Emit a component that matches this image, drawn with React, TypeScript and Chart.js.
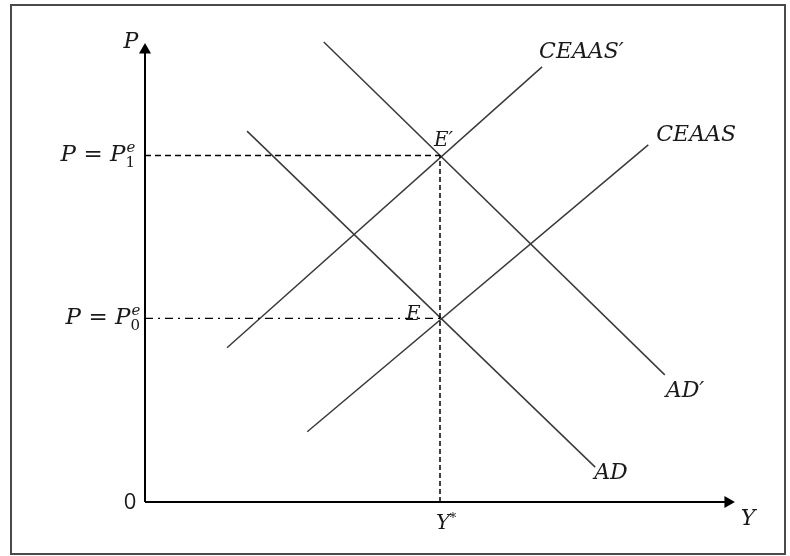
import React, { useEffect, useRef } from "react";
import { Chart, registerables } from "chart.js";

Chart.register(...registerables);

// Conceptual AD / CEAAS diagram, values in arbitrary axis units (0..10)
const yStar = 5.0;
const p0 = 4.0; // P = P0^e
const p1 = 7.55; // P = P1^e
const ceaasLine = [
  { x: 2.75, y: 1.53 },
  { x: 8.53, y: 7.78 },
];
const ceaasPrimeLine = [
  { x: 1.39, y: 3.36 },
  { x: 6.73, y: 9.48 },
];
const adLine = [
  { x: 1.73, y: 8.08 },
  { x: 7.63, y: 0.76 },
];
const adPrimeLine = [
  { x: 3.03, y: 10.02 },
  { x: 8.81, y: 2.77 },
];
const yAxisLine = [
  { x: 0, y: 0 },
  { x: 0, y: 9.85 },
];
const xAxisLine = [
  { x: 0, y: 0 },
  { x: 9.88, y: 0 },
];
const curveNames = ["CEAAS", "CEAAS′", "AD", "AD′"];
const axisNames = ["P", "Y", "0", "Y"];
const pointNames = ["E", "E′"];

const SERIF = '"DejaVu Serif"';

const labelPlugin = {
  id: "diagramLabels",
  afterDatasetsDraw(chart: any) {
    const { ctx } = chart;
    const sx = chart.scales.x;
    const sy = chart.scales.y;
    const px = (v: number) => sx.getPixelForValue(v);
    const py = (v: number) => sy.getPixelForValue(v);
    const it = (s: number) => `italic ${s}px ${SERIF}`;
    const rg = (s: number) => `${s}px ${SERIF}`;
    ctx.save();
    ctx.fillStyle = "#1a1a1a";
    ctx.textBaseline = "middle";
    ctx.textAlign = "left";

    // curve labels
    ctx.font = it(22);
    ctx.fillText(curveNames[1], px(ceaasPrimeLine[1].x) - 3, py(ceaasPrimeLine[1].y) - 15);
    ctx.fillText(curveNames[0], px(ceaasLine[1].x) + 8, py(ceaasLine[1].y) - 10);
    ctx.fillText(curveNames[3], px(adPrimeLine[1].x) + 1, py(adPrimeLine[1].y) + 16);
    ctx.fillText(curveNames[2], px(adLine[1].x) - 1, py(adLine[1].y) + 6);

    // equilibrium points
    ctx.font = it(20);
    ctx.fillText(pointNames[1], px(yStar) - 6, py(p1) - 15);
    ctx.fillText(pointNames[0], px(yStar) - 34, py(p0) - 4);

    // axis names
    ctx.font = it(22);
    ctx.textAlign = "center";
    ctx.fillText(axisNames[0], px(0) - 14, py(10) - 1);
    ctx.fillText(axisNames[1], px(10) + 13, py(0) + 17);
    ctx.font = it(21);
    ctx.fillText(axisNames[3], px(yStar) + 3, py(0) + 22);
    ctx.font = rg(13);
    ctx.fillText("*", px(yStar) + 13, py(0) + 17);
    ctx.font = `22px "Open Sans"`;
    ctx.fillText(axisNames[2], px(0) - 15, py(0) + 1);

    // P = P^e_n labels
    const drawP = (rightX: number, cy: number, sub: string) => {
      ctx.textAlign = "left";
      ctx.font = it(23);
      const wP = ctx.measureText("P").width;
      ctx.font = rg(23);
      const wEq = ctx.measureText(" = ").width;
      ctx.font = it(15);
      const wE = ctx.measureText("e").width;
      ctx.font = rg(15);
      const wS = ctx.measureText(sub).width;
      const total = wP * 2 + wEq + Math.max(wE, wS) + 1;
      let x0 = rightX - total;
      ctx.font = it(23);
      ctx.fillText("P", x0, cy);
      x0 += wP;
      ctx.font = rg(23);
      ctx.fillText(" = ", x0, cy);
      x0 += wEq;
      ctx.font = it(23);
      ctx.fillText("P", x0, cy);
      x0 += wP;
      ctx.font = it(15);
      ctx.fillText("e", x0 + 1, cy - 7);
      ctx.font = rg(15);
      ctx.fillText(sub, x0, cy + 8);
    };
    drawP(px(0) - 9, py(p1), "1");
    drawP(px(0) - 4, py(p0), "0");

    ctx.restore();
  },
};

export default function App() {
  const ref = useRef<HTMLCanvasElement | null>(null);

  useEffect(() => {
    if (!ref.current) return;
    const curve = (data: any[]) => ({
      data,
      showLine: true,
      borderColor: "#3a3a3a",
      borderWidth: 1.5,
      pointRadius: 0,
      pointHoverRadius: 0,
    });
    const arrowRadius = (c: any) => (c.dataIndex === 1 ? 7 : 0);
    const chart = new Chart(ref.current, {
      type: "scatter",
      data: {
        datasets: [
          {
            data: yAxisLine,
            showLine: true,
            borderColor: "#000",
            borderWidth: 2,
            pointRadius: arrowRadius,
            pointStyle: "triangle",
            pointBackgroundColor: "#000",
            pointBorderWidth: 0,
          },
          {
            data: xAxisLine,
            showLine: true,
            borderColor: "#000",
            borderWidth: 2,
            pointRadius: arrowRadius,
            pointStyle: "triangle",
            pointRotation: 90,
            pointBackgroundColor: "#000",
            pointBorderWidth: 0,
          },
          {
            data: [
              { x: 0, y: p1 },
              { x: yStar, y: p1 },
            ],
            showLine: true,
            borderColor: "#000",
            borderWidth: 1.5,
            borderDash: [6, 4],
            pointRadius: 0,
          },
          {
            data: [
              { x: yStar, y: 0 },
              { x: yStar, y: p1 },
            ],
            showLine: true,
            borderColor: "#000",
            borderWidth: 1.5,
            borderDash: [5, 3],
            pointRadius: 0,
          },
          {
            data: [
              { x: 0, y: p0 },
              { x: yStar, y: p0 },
            ],
            showLine: true,
            borderColor: "#000",
            borderWidth: 1.3,
            borderDash: [8, 5, 2, 5],
            pointRadius: 0,
          },
          curve(ceaasPrimeLine),
          curve(ceaasLine),
          curve(adLine),
          curve(adPrimeLine),
        ],
      },
      options: {
        animation: false,
        responsive: false,
        events: [],
        layout: { padding: { left: 145, right: 55, top: 43, bottom: 54 } },
        scales: {
          x: { type: "linear", min: 0, max: 10, display: false },
          y: { type: "linear", min: 0, max: 10, display: false },
        },
        plugins: {
          legend: { display: false },
          tooltip: { enabled: false },
        },
        clip: false as any,
      } as any,
      plugins: [labelPlugin],
    });
    return () => chart.destroy();
  }, []);

  return (
    <div
      style={{
        position: "fixed",
        left: 0,
        top: 0,
        width: 790,
        height: 556,
        background: "#fff",
      }}
    >
      <canvas ref={ref} width={790} height={556} style={{ position: "absolute", left: 0, top: 0 }} />
      <div
        style={{
          position: "absolute",
          left: 10,
          top: 4,
          width: 776,
          height: 551,
          boxSizing: "border-box",
          border: "2px solid #4a4a4a",
          pointerEvents: "none",
        }}
      />
    </div>
  );
}
